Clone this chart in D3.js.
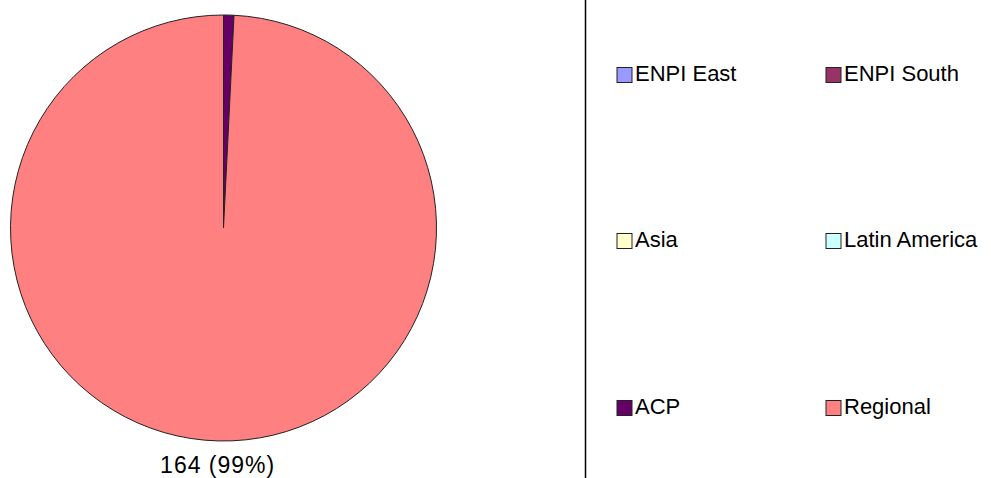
<!DOCTYPE html>
<html><head><meta charset="utf-8">
<script src="https://cdn.jsdelivr.net/npm/d3@7"></script>
<style>body{margin:0;background:#fff}svg{display:block}</style>
</head><body>
<svg id="c" width="991" height="478"></svg>
<script>
const categories = ["ENPI East","ENPI South","Asia","Latin America","ACP","Regional"];
const values = [0, 0, 0, 0, 1.3, 164];
const labels = ["", "", "", "", "", "164 (99%)"];
const colors = ["#9999FF","#993366","#FFFFCC","#CCFFFF","#660066","#FF8080"];

const svg = d3.select("#c");
const font = "'Liberation Sans', Arial, sans-serif";
const cx = 223.5, cy = 228, r = 213;

const pie = d3.pie().sort(null).value(d => d)(values);
const arc = d3.arc().innerRadius(0).outerRadius(r);
const g = svg.append("g").attr("transform", `translate(${cx},${cy})`);
g.selectAll("path").data(pie).join("path")
  .attr("d", arc)
  .attr("fill", (d,i) => colors[i])
  .attr("stroke", "#222")
  .attr("stroke-width", 1)
  .attr("stroke-linejoin", "round");

const lab = d3.arc().innerRadius(r + 24).outerRadius(r + 24);
g.selectAll("text").data(pie.filter((d,i) => labels[i])).join("text")
  .attr("x", d => lab.centroid(d)[0])
  .attr("y", d => lab.centroid(d)[1] + 8)
  .attr("text-anchor", "middle")
  .attr("font-family", font).attr("font-size", 23).attr("letter-spacing", 1).attr("fill", "#000")
  .text(d => labels[d.index]);

// legend border line
svg.append("line").attr("x1", 585.5).attr("x2", 585.5).attr("y1", 0).attr("y2", 478)
  .attr("stroke", "#000").attr("stroke-width", 1.5);

const colX = [617, 826], rowY = [75, 241, 408];
const leg = svg.append("g");
categories.forEach((c, i) => {
  const x = colX[i % 2], y = rowY[Math.floor(i / 2)];
  leg.append("rect").attr("x", x).attr("y", y - 7.5).attr("width", 15).attr("height", 15)
    .attr("fill", colors[i]).attr("stroke", "#222").attr("stroke-width", 1);
  leg.append("text").attr("x", x + 18).attr("y", y).attr("dominant-baseline", "middle")
    .attr("font-family", font).attr("font-size", 22).attr("fill", "#000").text(c);
});
</script>
</body></html>
